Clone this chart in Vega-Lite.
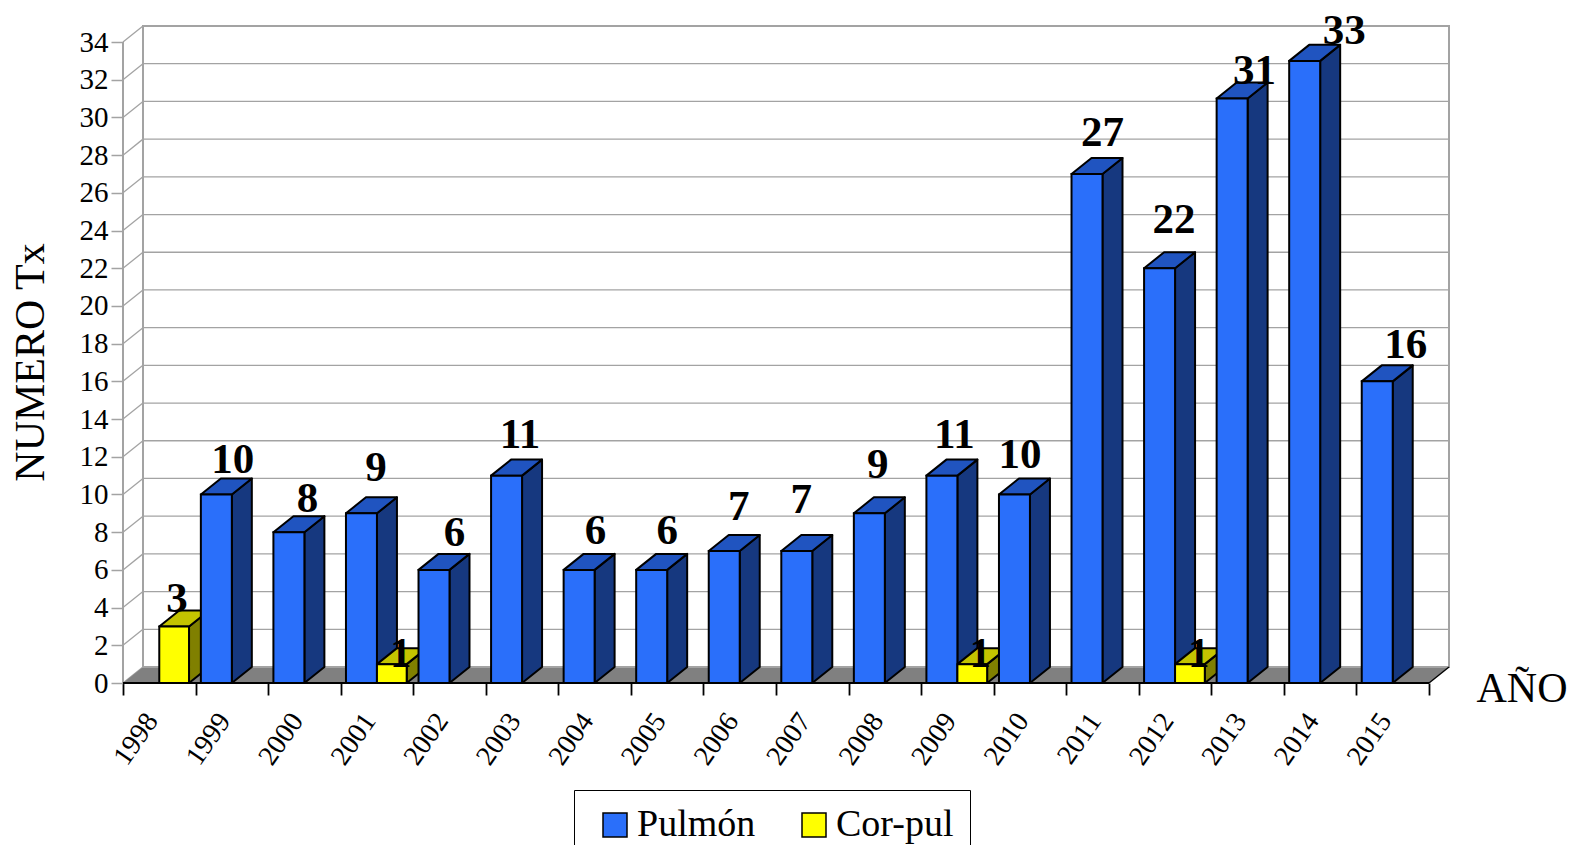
{
"$schema":"https://vega.github.io/schema/vega-lite/v6.json",
"autosize":{"type":"none"},
"padding":{"left":123,"top":26,"right":123,"bottom":162},
"width":1326,"height":657,
"background":"white",
"config":{"font":"Liberation Serif","view":{"stroke":null}},
"datasets":{
"bars":[
{"year":1998,"series":"Cor-pul","value":3},
{"year":1999,"series":"Pulmón","value":10},
{"year":2000,"series":"Pulmón","value":8},
{"year":2001,"series":"Pulmón","value":9},
{"year":2001,"series":"Cor-pul","value":1},
{"year":2002,"series":"Pulmón","value":6},
{"year":2003,"series":"Pulmón","value":11},
{"year":2004,"series":"Pulmón","value":6},
{"year":2005,"series":"Pulmón","value":6},
{"year":2006,"series":"Pulmón","value":7},
{"year":2007,"series":"Pulmón","value":7},
{"year":2008,"series":"Pulmón","value":9},
{"year":2009,"series":"Pulmón","value":11},
{"year":2009,"series":"Cor-pul","value":1},
{"year":2010,"series":"Pulmón","value":10},
{"year":2011,"series":"Pulmón","value":27},
{"year":2012,"series":"Pulmón","value":22},
{"year":2012,"series":"Cor-pul","value":1},
{"year":2013,"series":"Pulmón","value":31},
{"year":2014,"series":"Pulmón","value":33},
{"year":2015,"series":"Pulmón","value":16}
],
"levels":[{"v":0},{"v":2},{"v":4},{"v":6},{"v":8},{"v":10},{"v":12},{"v":14},{"v":16},{"v":18},{"v":20},{"v":22},{"v":24},{"v":26},{"v":28},{"v":30},{"v":32},{"v":34}]
},
"resolve":{"axis":{"x":"independent","y":"independent"}},
"layer":[
{"data":{"name":"levels"},
 "transform":[{"filter":"datum.v>0"},{"calculate":"datum.v+0.849","as":"yb"}],
 "mark":{"type":"rule","color":"#a3a3a3","strokeWidth":1.3},
 "encoding":{
  "x":{"datum":0.2756,"type":"quantitative","scale":{"domain":[0,18.2756],"nice":false},
   "axis":{"orient":"bottom","values":[0,1,2,3,4,5,6,7,8,9,10,11,12,13,14,15,16,17,18],"labels":false,"domain":false,"grid":false,"tickColor":"#000","tickSize":12,"tickWidth":1.8,
    "title":"AÑO","titleFont":"Liberation Serif","titleFontSize":42,"titleFontWeight":"normal","titleColor":"#000","titleX":1353,"titleY":18,"titleAlign":"left","titleBaseline":"alphabetic","titleAnchor":null}},
  "x2":{"datum":18.2756},
  "y":{"field":"yb","type":"quantitative","scale":{"domain":[0,34.85],"nice":false},"axis":null}
 }},
{"data":{"name":"levels"},
 "transform":[{"calculate":"[0,1]","as":"c"},{"flatten":["c"]},{"calculate":"datum.c*0.2756","as":"px"},{"calculate":"datum.v+datum.c*0.849","as":"py"}],
 "mark":{"type":"line","color":"#a3a3a3","strokeWidth":1.3},
 "encoding":{
  "x":{"field":"px","type":"quantitative","scale":{"domain":[0,18.2756],"nice":false},"axis":null},
  "y":{"field":"py","type":"quantitative","scale":{"domain":[0,34.85],"nice":false},"axis":null},
  "detail":{"field":"v"}
 }},
{"data":{"values":[{"c":0},{"c":1},{"c":2},{"c":3}]},
 "transform":[
  {"calculate":"datum.c==0?0:datum.c==1?0.2756:datum.c==2?18:18.2756","as":"px"},
  {"calculate":"datum.c==0?0:0.849","as":"yu"},
  {"calculate":"datum.c==3?0.849:0","as":"yl"}],
 "mark":{"type":"area","orient":"vertical","color":"#808080"},
 "encoding":{
  "x":{"field":"px","type":"quantitative","scale":{"domain":[0,18.2756],"nice":false},"axis":null},
  "y":{"field":"yu","type":"quantitative","scale":{"domain":[0,34.85],"nice":false},"axis":null,"stack":null},
  "y2":{"field":"yl"}
 }},
{"data":{"values":[{"wall":"back"}]},
 "mark":{"type":"rect","fill":null,"stroke":"#a3a3a3","strokeWidth":2},
 "encoding":{
  "x":{"datum":0.2756,"type":"quantitative","scale":{"domain":[0,18.2756],"nice":false},"axis":null},
  "x2":{"datum":18.2756},
  "y":{"datum":0.849,"type":"quantitative","scale":{"domain":[0,34.85],"nice":false},"axis":null},
  "y2":{"datum":34.849}
 }},
{"data":{"values":[{"wall":"left"}]},
 "mark":{"type":"rule","color":"#a3a3a3","strokeWidth":2},
 "encoding":{
  "x":{"datum":0,"type":"quantitative","scale":{"domain":[0,18.2756],"nice":false},"axis":null},
  "y":{"datum":0,"type":"quantitative","scale":{"domain":[0,34.85],"nice":false},
   "axis":{"orient":"left","values":[0,2,4,6,8,10,12,14,16,18,20,22,24,26,28,30,32,34],"domain":false,"grid":false,"tickColor":"#a3a3a3","tickSize":12,"tickWidth":1.5,"labelFontSize":29,"labelColor":"#000","labelPadding":3,"labelFont":"Liberation Serif",
    "title":"NUMERO Tx","titleFont":"Liberation Serif","titleFontSize":42,"titleFontWeight":"normal","titleColor":"#000","titleX":-80,"titleY":336,"titleAngle":-90,"titleAlign":"center","titleBaseline":"alphabetic"}},
  "y2":{"datum":34}
 }},
{"data":{"name":"bars"},
 "transform":[
  {"calculate":"datum.year-1998+(datum.series==='Pulmón'?0.5:0.91)","as":"xr"},
  {"calculate":"[0,1]","as":"c"},{"flatten":["c"]},
  {"calculate":"datum.xr+datum.c*0.2756","as":"px"},
  {"calculate":"datum.value+datum.c*0.849","as":"yu"},
  {"calculate":"datum.c*0.849","as":"yl"},
  {"calculate":"datum.year+datum.series","as":"key"}],
 "mark":{"type":"area","orient":"vertical","stroke":"#000","strokeWidth":2,"strokeJoin":"round"},
 "encoding":{
  "x":{"field":"px","type":"quantitative","scale":{"domain":[0,18.2756],"nice":false},"axis":null},
  "y":{"field":"yu","type":"quantitative","scale":{"domain":[0,34.85],"nice":false},"axis":null,"stack":null},
  "y2":{"field":"yl"},
  "detail":{"field":"key"},
  "fill":{"condition":{"test":"datum.series==='Pulmón'","value":"#16387f"},"value":"#808000"}
 }},
{"data":{"name":"bars"},
 "transform":[
  {"calculate":"datum.year-1998+(datum.series==='Pulmón'?0.073:0.5)","as":"xl"},
  {"calculate":"datum.year-1998+(datum.series==='Pulmón'?0.5:0.91)","as":"xr"},
  {"calculate":"[0,1,2,3]","as":"c"},{"flatten":["c"]},
  {"calculate":"datum.c==0?datum.xl:datum.c==1?datum.xl+0.2756:datum.c==2?datum.xr:datum.xr+0.2756","as":"px"},
  {"calculate":"datum.c==0?datum.value:datum.value+0.849","as":"yu"},
  {"calculate":"datum.c==3?datum.value+0.849:datum.value","as":"yl"},
  {"calculate":"datum.year+datum.series","as":"key"}],
 "mark":{"type":"area","orient":"vertical","stroke":"#000","strokeWidth":2,"strokeJoin":"round"},
 "encoding":{
  "x":{"field":"px","type":"quantitative","scale":{"domain":[0,18.2756],"nice":false},"axis":null},
  "y":{"field":"yu","type":"quantitative","scale":{"domain":[0,34.85],"nice":false},"axis":null,"stack":null},
  "y2":{"field":"yl"},
  "detail":{"field":"key"},
  "fill":{"condition":{"test":"datum.series==='Pulmón'","value":"#2054c0"},"value":"#c4c400"}
 }},
{"data":{"name":"bars"},
 "transform":[
  {"calculate":"datum.year-1998+(datum.series==='Pulmón'?0.073:0.5)","as":"xl"},
  {"calculate":"datum.year-1998+(datum.series==='Pulmón'?0.5:0.91)","as":"xr"}],
 "mark":{"type":"rect","stroke":"#000","strokeWidth":2},
 "encoding":{
  "x":{"field":"xl","type":"quantitative","scale":{"domain":[0,18.2756],"nice":false},"axis":null},
  "x2":{"field":"xr"},
  "y":{"field":"value","type":"quantitative","scale":{"domain":[0,34.85],"nice":false},"axis":null},
  "y2":{"datum":0},
  "fill":{"field":"series","type":"nominal","sort":null,"scale":{"domain":["Pulmón","Cor-pul"],"range":["#2a6ffa","#ffff00"]},
   "legend":{"title":null,"orient":"none","legendX":451,"legendY":764,"direction":"horizontal","symbolType":"square","symbolSize":576,"symbolFillColor":null,"symbolStrokeColor":"#000","symbolStrokeWidth":1.5,"symbolOffset":6,"labelFont":"Liberation Serif","labelFontSize":38,"labelColor":"#000","labelOffset":3,"labelLimit":300,"columnPadding":33,"padding":16,"strokeColor":"#000","fillColor":"#fff"}}
 }},
{"data":{"values":[{"edge":"front"}]},
 "mark":{"type":"rule","color":"#000","strokeWidth":2},
 "encoding":{
  "x":{"datum":0,"type":"quantitative","scale":{"domain":[0,18.2756],"nice":false},
   "axis":{"orient":"bottom","values":[0.4,1.4,2.4,3.4,4.4,5.4,6.4,7.4,8.4,9.4,10.4,11.4,12.4,13.4,14.4,15.4,16.4,17.4],"labelExpr":"''+(1998+floor(datum.value))","domain":false,"grid":false,"ticks":false,"title":null,"labelAngle":-55,"labelAlign":"right","labelBaseline":"middle","labelFont":"Liberation Serif","labelFontSize":28,"labelColor":"#000","labelPadding":33,"labelOverlap":false,"labelFlush":false,"labelBound":false}},
  "x2":{"datum":18},
  "y":{"datum":0,"type":"quantitative","scale":{"domain":[0,34.85],"nice":false},"axis":null}
 }},
{"data":{"values":[{"c":0},{"c":1}]},
 "transform":[{"calculate":"18+datum.c*0.2756","as":"px"},{"calculate":"datum.c*0.849","as":"py"}],
 "mark":{"type":"line","color":"#000","strokeWidth":1.5},
 "encoding":{
  "x":{"field":"px","type":"quantitative","scale":{"domain":[0,18.2756],"nice":false},"axis":null},
  "y":{"field":"py","type":"quantitative","scale":{"domain":[0,34.85],"nice":false},"axis":null}
 }},
{"data":{"name":"bars"},
 "transform":[
  {"calculate":"datum.year-1998+(datum.series==='Pulmón'?0.5:0.91)","as":"xr"},
  {"calculate":"datum.year+(datum.series==='Pulmón'?'':'c')","as":"k"},
  {"calculate":"({'1998c':[-12,14],'1999':[1,21],'2000':[3,20],'2001':[-1,32],'2001c':[-6,-3],'2002':[5,24],'2003':[-2,28],'2004':[1,26],'2005':[0,26],'2006':[-1,31],'2007':[-11,38],'2008':[-7,35],'2009':[-3,28],'2009c':[-7,-3],'2010':[-10,26],'2011':[0,28],'2012':[-1,35],'2012c':[-6,-3],'2013':[7,15],'2014':[24,17],'2015':[13,23]})[datum.k]","as":"off"},
  {"calculate":"datum.xr+datum.off[0]/72.57","as":"lx"},
  {"calculate":"datum.value+datum.off[1]/18.85","as":"ly"}],
 "mark":{"type":"text","font":"Liberation Serif","fontSize":43,"fontWeight":"bold","color":"#000","align":"center","baseline":"alphabetic"},
 "encoding":{
  "x":{"field":"lx","type":"quantitative","scale":{"domain":[0,18.2756],"nice":false},"axis":null},
  "y":{"field":"ly","type":"quantitative","scale":{"domain":[0,34.85],"nice":false},"axis":null},
  "text":{"field":"value","type":"quantitative"}
 }}
]
}
